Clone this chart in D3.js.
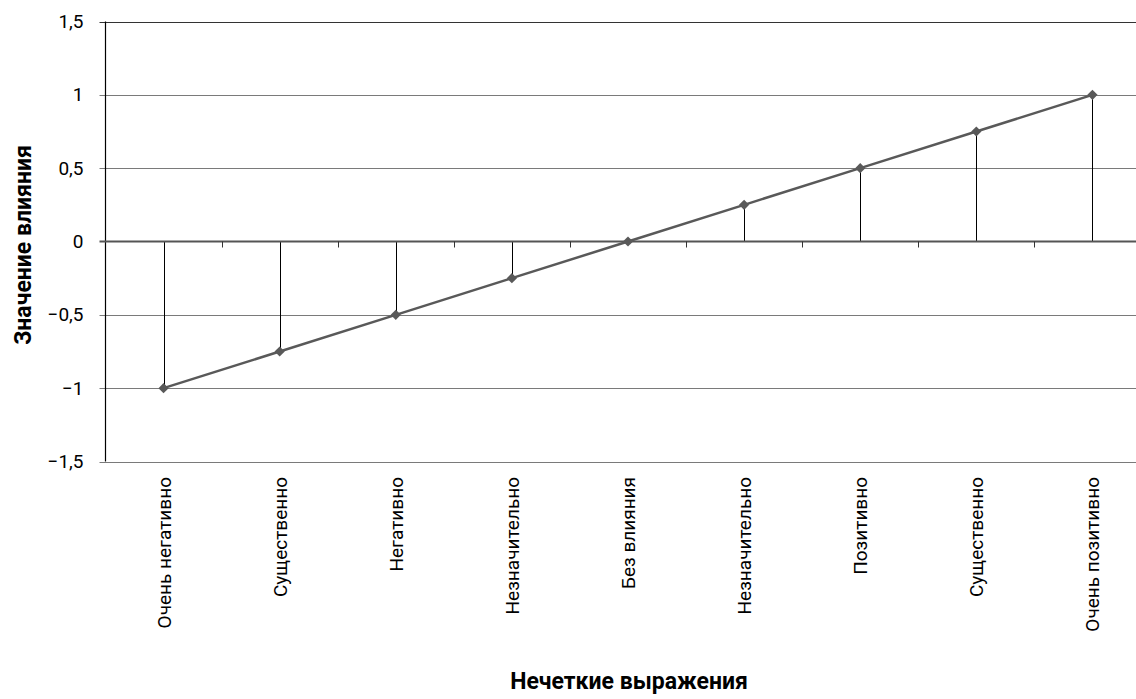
<!DOCTYPE html>
<html><head><meta charset="utf-8">
<script src="https://cdn.jsdelivr.net/npm/d3@7"></script>
<style>
html,body{margin:0;padding:0;background:#fff;}
svg{display:block;}
text{font-family:Roboto,"Open Sans",sans-serif;fill:#000;}
</style></head><body>
<svg id="chart" width="1136" height="699"></svg>
<script>
const categories = ["Очень негативно","Существенно","Негативно","Незначительно","Без влияния","Незначительно","Позитивно","Существенно","Очень позитивно"];
const values = [-1,-0.75,-0.5,-0.25,0,0.25,0.5,0.75,1];
const yTicks = [-1.5,-1,-0.5,0,0.5,1,1.5];
const xTitle = "Нечеткие выражения";
const yTitle = "Значение влияния";

(function(){
const svg = d3.select("#chart");
const pLeft = 105.5, pRight = 1150.5, pTop = 21.5, pBottom = 461.5;
const data = categories.map((c,i)=>({key:i, cat:c, v:values[i]}));

const x = d3.scaleBand().domain(data.map(d=>d.key)).range([pLeft,pRight]).paddingInner(0).paddingOuter(0);
const y = d3.scaleLinear().domain([-1.5,1.5]).range([pBottom,pTop]);
const fmt = v => (v<0?"\u2212":"") + String(Math.abs(v)).replace(".",",");

// gridlines
svg.append("g").selectAll("line").data(yTicks.filter(t=>t!==0)).join("line")
  .attr("x1",pLeft-6).attr("x2",1136)
  .attr("y1",d=>Math.round(y(d))+0.5).attr("y2",d=>Math.round(y(d))+0.5)
  .attr("stroke",d=>d===1.5?"#333":"#7a7a7a").attr("stroke-width",1);

// y axis
const yAxis = d3.axisLeft(y).tickValues(yTicks).tickFormat(fmt).tickSize(0).tickPadding(22);
const gy = svg.append("g").attr("transform",`translate(${pLeft},0)`).call(yAxis);
gy.select(".domain").remove();
gy.attr("font-size",null).attr("font-family",null);
gy.selectAll("text").style("font-size","19px").attr("fill","#000");
svg.append("line").attr("x1",pLeft).attr("x2",pLeft).attr("y1",pTop).attr("y2",pBottom).attr("stroke","#000").attr("stroke-width",1.2);

// drop lines
svg.append("g").selectAll("line").data(data.filter(d=>d.v!==0)).join("line")
  .attr("x1",d=>Math.round(x(d.key)+x.bandwidth()/2)+0.5).attr("x2",d=>Math.round(x(d.key)+x.bandwidth()/2)+0.5)
  .attr("y1",d=>y(d.v)).attr("y2",y(0))
  .attr("stroke","#000").attr("stroke-width",1);

// zero axis with ticks between categories
const zeroY = y(0);
svg.append("line").attr("x1",pLeft-6).attr("x2",1136).attr("y1",zeroY).attr("y2",zeroY).attr("stroke","#555").attr("stroke-width",2);
const bounds = d3.range(1,categories.length).map(i=>x(i));
svg.append("g").selectAll("line").data(bounds).join("line")
  .attr("x1",d=>Math.round(d)+0.5).attr("x2",d=>Math.round(d)+0.5)
  .attr("y1",zeroY).attr("y2",zeroY+6).attr("stroke","#333").attr("stroke-width",1);

// series line
const line = d3.line().x(d=>x(d.key)+x.bandwidth()/2).y(d=>y(d.v));
svg.append("path").datum(data).attr("d",line).attr("fill","none").attr("stroke","#595959").attr("stroke-width",2.5);

// markers
svg.append("g").selectAll("path").data(data).join("path")
  .attr("d",d3.symbol().type(d3.symbolSquare).size(52))
  .attr("transform",d=>`translate(${x(d.key)+x.bandwidth()/2},${y(d.v)}) rotate(45)`)
  .attr("fill","#595959");

// x labels
svg.append("g").selectAll("text").data(data).join("text")
  .attr("transform",d=>`translate(${x(d.key)+x.bandwidth()/2+7},477) rotate(-90)`)
  .attr("text-anchor","end").style("font-size","19px").text(d=>d.cat);

// titles
svg.append("text").attr("x",629).attr("y",689).attr("text-anchor","middle")
  .style("font-size","23px").style("font-weight","bold").text(xTitle);
svg.append("text").attr("transform","translate(31,245) rotate(-90)").attr("text-anchor","middle")
  .style("font-size","23px").style("font-weight","bold").text(yTitle);
})();
</script>
</body></html>
